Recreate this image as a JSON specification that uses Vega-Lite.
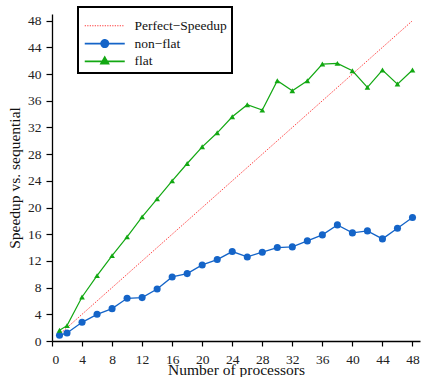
{
  "$schema": "https://vega.github.io/schema/vega-lite/v6.json",
  "width": 368,
  "height": 327,
  "autosize": "none",
  "padding": {"left": 52, "top": 14, "right": 1, "bottom": 36},
  "background": "white",
  "config": {
    "view": {"stroke": null},
    "font": "Liberation Serif",
    "legend": {"strokeWidth": 2},
    "axis": {
      "grid": false,
      "domainColor": "black",
      "domainWidth": 1.3,
      "tickColor": "black",
      "tickWidth": 1.2,
      "labelFont": "Liberation Serif",
      "labelFontSize": 13.5,
      "labelColor": "#222",
      "titleFont": "Liberation Serif",
      "titleFontSize": 15.5,
      "titleFontWeight": "normal",
      "titleColor": "#111"
    }
  },
  "datasets": {
    "perfect": [
      {"p": 1, "speedup": 1, "series": "Perfect\u2212Speedup"},
      {"p": 48, "speedup": 48, "series": "Perfect\u2212Speedup"}
    ],
    "nonflat": [
      {"p": 1, "speedup": 0.85, "series": "non\u2212flat"},
      {"p": 2, "speedup": 1.2, "series": "non\u2212flat"},
      {"p": 4, "speedup": 2.8, "series": "non\u2212flat"},
      {"p": 6, "speedup": 4.0, "series": "non\u2212flat"},
      {"p": 8, "speedup": 4.85, "series": "non\u2212flat"},
      {"p": 10, "speedup": 6.4, "series": "non\u2212flat"},
      {"p": 12, "speedup": 6.5, "series": "non\u2212flat"},
      {"p": 14, "speedup": 7.8, "series": "non\u2212flat"},
      {"p": 16, "speedup": 9.6, "series": "non\u2212flat"},
      {"p": 18, "speedup": 10.1, "series": "non\u2212flat"},
      {"p": 20, "speedup": 11.4, "series": "non\u2212flat"},
      {"p": 22, "speedup": 12.2, "series": "non\u2212flat"},
      {"p": 24, "speedup": 13.4, "series": "non\u2212flat"},
      {"p": 26, "speedup": 12.6, "series": "non\u2212flat"},
      {"p": 28, "speedup": 13.3, "series": "non\u2212flat"},
      {"p": 30, "speedup": 14.0, "series": "non\u2212flat"},
      {"p": 32, "speedup": 14.1, "series": "non\u2212flat"},
      {"p": 34, "speedup": 15.0, "series": "non\u2212flat"},
      {"p": 36, "speedup": 15.9, "series": "non\u2212flat"},
      {"p": 38, "speedup": 17.4, "series": "non\u2212flat"},
      {"p": 40, "speedup": 16.2, "series": "non\u2212flat"},
      {"p": 42, "speedup": 16.5, "series": "non\u2212flat"},
      {"p": 44, "speedup": 15.3, "series": "non\u2212flat"},
      {"p": 46, "speedup": 16.9, "series": "non\u2212flat"},
      {"p": 48, "speedup": 18.5, "series": "non\u2212flat"}
    ],
    "flat": [
      {"p": 1, "speedup": 1.6, "series": "flat"},
      {"p": 2, "speedup": 2.3, "series": "flat"},
      {"p": 4, "speedup": 6.6, "series": "flat"},
      {"p": 6, "speedup": 9.8, "series": "flat"},
      {"p": 8, "speedup": 12.8, "series": "flat"},
      {"p": 10, "speedup": 15.6, "series": "flat"},
      {"p": 12, "speedup": 18.6, "series": "flat"},
      {"p": 14, "speedup": 21.3, "series": "flat"},
      {"p": 16, "speedup": 24.0, "series": "flat"},
      {"p": 18, "speedup": 26.6, "series": "flat"},
      {"p": 20, "speedup": 29.1, "series": "flat"},
      {"p": 22, "speedup": 31.2, "series": "flat"},
      {"p": 24, "speedup": 33.6, "series": "flat"},
      {"p": 26, "speedup": 35.4, "series": "flat"},
      {"p": 28, "speedup": 34.6, "series": "flat"},
      {"p": 30, "speedup": 39.0, "series": "flat"},
      {"p": 32, "speedup": 37.5, "series": "flat"},
      {"p": 34, "speedup": 39.0, "series": "flat"},
      {"p": 36, "speedup": 41.5, "series": "flat"},
      {"p": 38, "speedup": 41.6, "series": "flat"},
      {"p": 40, "speedup": 40.5, "series": "flat"},
      {"p": 42, "speedup": 38.0, "series": "flat"},
      {"p": 44, "speedup": 40.6, "series": "flat"},
      {"p": 46, "speedup": 38.5, "series": "flat"},
      {"p": 48, "speedup": 40.6, "series": "flat"}
    ]
  },
  "encoding": {
    "x": {
      "field": "p", "type": "quantitative",
      "scale": {"domain": [0, 49], "nice": false, "zero": false},
      "axis": {
        "title": "Number of processors",
        "values": [0, 4, 8, 12, 16, 20, 24, 28, 32, 36, 40, 44, 48],
        "tickSize": 5, "labelPadding": 6,
        "titleY": 33, "titleBaseline": "alphabetic"
      }
    },
    "y": {
      "field": "speedup", "type": "quantitative",
      "scale": {"domain": [0, 49], "nice": false, "zero": false},
      "axis": {
        "title": "Speedup vs. sequential",
        "values": [0, 4, 8, 12, 16, 20, 24, 28, 32, 36, 40, 44, 48],
        "tickSize": 6, "labelPadding": 5,
        "titleX": -38, "titleBaseline": "middle"
      }
    },
    "color": {
      "field": "series", "type": "nominal",
      "scale": {
        "domain": ["Perfect\u2212Speedup", "non\u2212flat", "flat"],
        "range": ["#ff3030", "#1464c8", "#12a812"]
      },
      "legend": null
    }
  },
  "layer": [
    {
      "data": {"name": "perfect"},
      "mark": {"type": "line", "strokeWidth": 1, "strokeDash": [1.2, 1.3]},
      "encoding": {
        "color": {
          "field": "series", "type": "nominal",
          "scale": {
            "domain": ["Perfect\u2212Speedup", "non\u2212flat", "flat"],
            "range": ["#ff3030", "#1464c8", "#12a812"]
          },
          "legend": {
            "orient": "none",
            "legendX": 26,
            "legendY": -7,
            "title": "\u00a0",
            "titleFontSize": 7,
            "titlePadding": 0,
            "values": ["Perfect\u2212Speedup", "non\u2212flat", "flat"],
            "strokeColor": "black",
            "fillColor": "white",
            "padding": 5,
            "symbolSize": 1600,
            "symbolStrokeWidth": 1.5,
            "symbolOffset": 15,
            "labelFont": "Liberation Serif",
            "labelFontSize": 13.5,
            "labelColor": "#111",
            "labelOffset": 23,
            "labelExpr": "datum.label + '\u2002\u2009'",
            "rowPadding": 2.8,
            "encode": {
              "symbols": {
                "update": {
                  "size": {"value": 1600},
                  "shape": {"signal": "datum.value === 'flat' ? 'M-1,0L1,0M0,-0.2L0.18,0.11L-0.18,0.11Z' : datum.value === 'Perfect\u2212Speedup' ? 'M-1,0L1,0' : 'M-1,0L1,0M0.18,0A0.18,0.18 0 1,1 -0.18,0A0.18,0.18 0 1,1 0.18,0Z'"},
                  "fill": {"signal": "datum.value === 'flat' ? '#12a812' : datum.value === 'Perfect\u2212Speedup' ? 'transparent' : '#1464c8'"},
                  "stroke": {"signal": "datum.value === 'flat' ? '#12a812' : datum.value === 'Perfect\u2212Speedup' ? '#ff3030' : '#5a96dc'"},
                  "strokeDash": {"signal": "datum.value === 'Perfect\u2212Speedup' ? [1.2, 1.3] : [1, 0]"},
                  "strokeWidth": {"signal": "datum.value === 'Perfect\u2212Speedup' ? 1 : 1.8"},
                  "opacity": {"value": 1}
                }
              }
            }
          }
        }
      }
    },
    {
      "data": {"name": "nonflat"},
      "mark": {"type": "line", "strokeWidth": 1.3, "point": {"filled": true, "size": 50, "opacity": 1}}
    },
    {
      "data": {"name": "flat"},
      "mark": {"type": "line", "strokeWidth": 1.2, "point": {"filled": true, "shape": "triangle-up", "size": 32, "opacity": 1}}
    }
  ]
}
